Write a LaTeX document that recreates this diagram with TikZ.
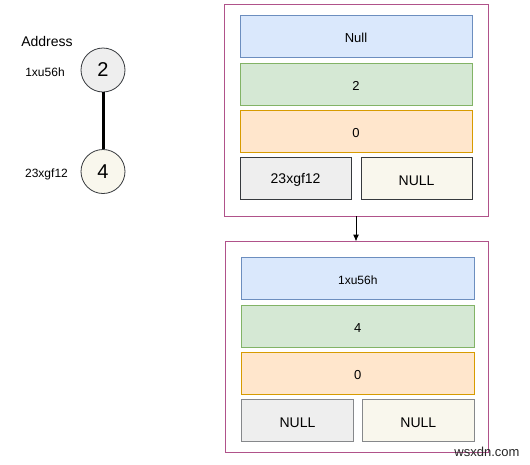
\documentclass[tikz,border=0pt]{standalone}
\usepackage{fontspec}
\setmainfont{Liberation Sans}
\usetikzlibrary{arrows.meta}
\definecolor{bluef}{HTML}{DAE8FC}\definecolor{blued}{HTML}{6C8EBF}
\definecolor{greenf}{HTML}{D5E8D4}\definecolor{greend}{HTML}{82B366}
\definecolor{orangef}{HTML}{FFE6CC}\definecolor{oranged}{HTML}{D79B00}
\definecolor{grayf}{HTML}{EEEEEE}\definecolor{grayd}{HTML}{36393D}
\definecolor{creamf}{HTML}{F9F7ED}
\definecolor{outerd}{HTML}{B0528A}
\begin{document}
\begin{tikzpicture}[x=1pt,y=-1pt,
  outerbox/.style={draw=outerd,line width=1pt},
  cell/.style={line width=0.8pt},
  fs/.style={font=\fontsize{#1}{#1}\selectfont},
  circ/.style={circle,draw=grayd,line width=0.8pt,minimum size=44pt,inner sep=0pt,fs=20}]
\useasboundingbox (0,0) rectangle (530,464);
% left tree
\node[fs=14] (addr) at (47,41) {Address};
\node[circ,fill=grayf] (c2) at (103,70) {2};
\node[circ,fill=creamf] (c4) at (103,171.5) {4};
\draw[line width=3pt] (c2) -- (c4);
\node[fs=12] (a1) at (45,72) {1xu56h};
\node[fs=12] (a2) at (46.5,174.5) {23xgf12};
% first structure
\draw[outerbox] (224,4) rectangle (488,216);
\node[inner sep=0,minimum width=264pt,minimum height=212pt] (box1) at (356,110) {};
\draw[cell,fill=bluef,draw=blued] (240,15.3) rectangle (472,57.3);
\node[fs=13] (n1) at (356,38.3) {Null};
\draw[cell,fill=greenf,draw=greend] (240,63.3) rectangle (472,105.3);
\node[fs=13] (n2) at (356,86.3) {2};
\draw[cell,fill=orangef,draw=oranged] (240,110.3) rectangle (472,152.3);
\node[fs=13] (n3) at (356,133.3) {0};
\draw[cell,fill=grayf,draw=grayd] (240,157.3) rectangle (351.3,199.3);
\node[fs=14] (n4) at (295.6,180.3) {23xgf12};
\draw[cell,fill=creamf,draw=grayd] (361.3,157.3) rectangle (472,199.3);
\node[fs=14] (n5) at (416.6,180.3) {NULL};
% second structure
\draw[outerbox] (225,241.7) rectangle (488.3,452.7);
\node[inner sep=0,minimum width=263pt,minimum height=211pt] (box2) at (356.6,347.2) {};
\draw[cell,fill=bluef,draw=blued] (241.7,257.3) rectangle (474,299.3);
\node[fs=12] (m1) at (357.8,280) {1xu56h};
\draw[cell,fill=greenf,draw=greend] (241.7,305.3) rectangle (474,347.3);
\node[fs=13] (m2) at (357.8,328.3) {4};
\draw[cell,fill=orangef,draw=oranged] (241.7,352.3) rectangle (474,394);
\node[fs=13] (m3) at (357.8,375.2) {0};
\draw[cell,fill=grayf,draw=grayd!60] (241.7,399.3) rectangle (353.3,441.3);
\node[fs=14] (m4) at (297.5,422.3) {NULL};
\draw[cell,fill=creamf,draw=grayd!60] (362.7,399.3) rectangle (474,441.3);
\node[fs=14] (m5) at (418.3,422.3) {NULL};
% arrow
\draw[-{Latex[length=7pt,width=6pt]},line width=1pt] (box1.south -| 356,0) -- (box2.north -| 356,0);
% watermark
\node[fs=13,text=black!85] (wm) at (487,452) {wsxdn.com};
\end{tikzpicture}
\end{document}
